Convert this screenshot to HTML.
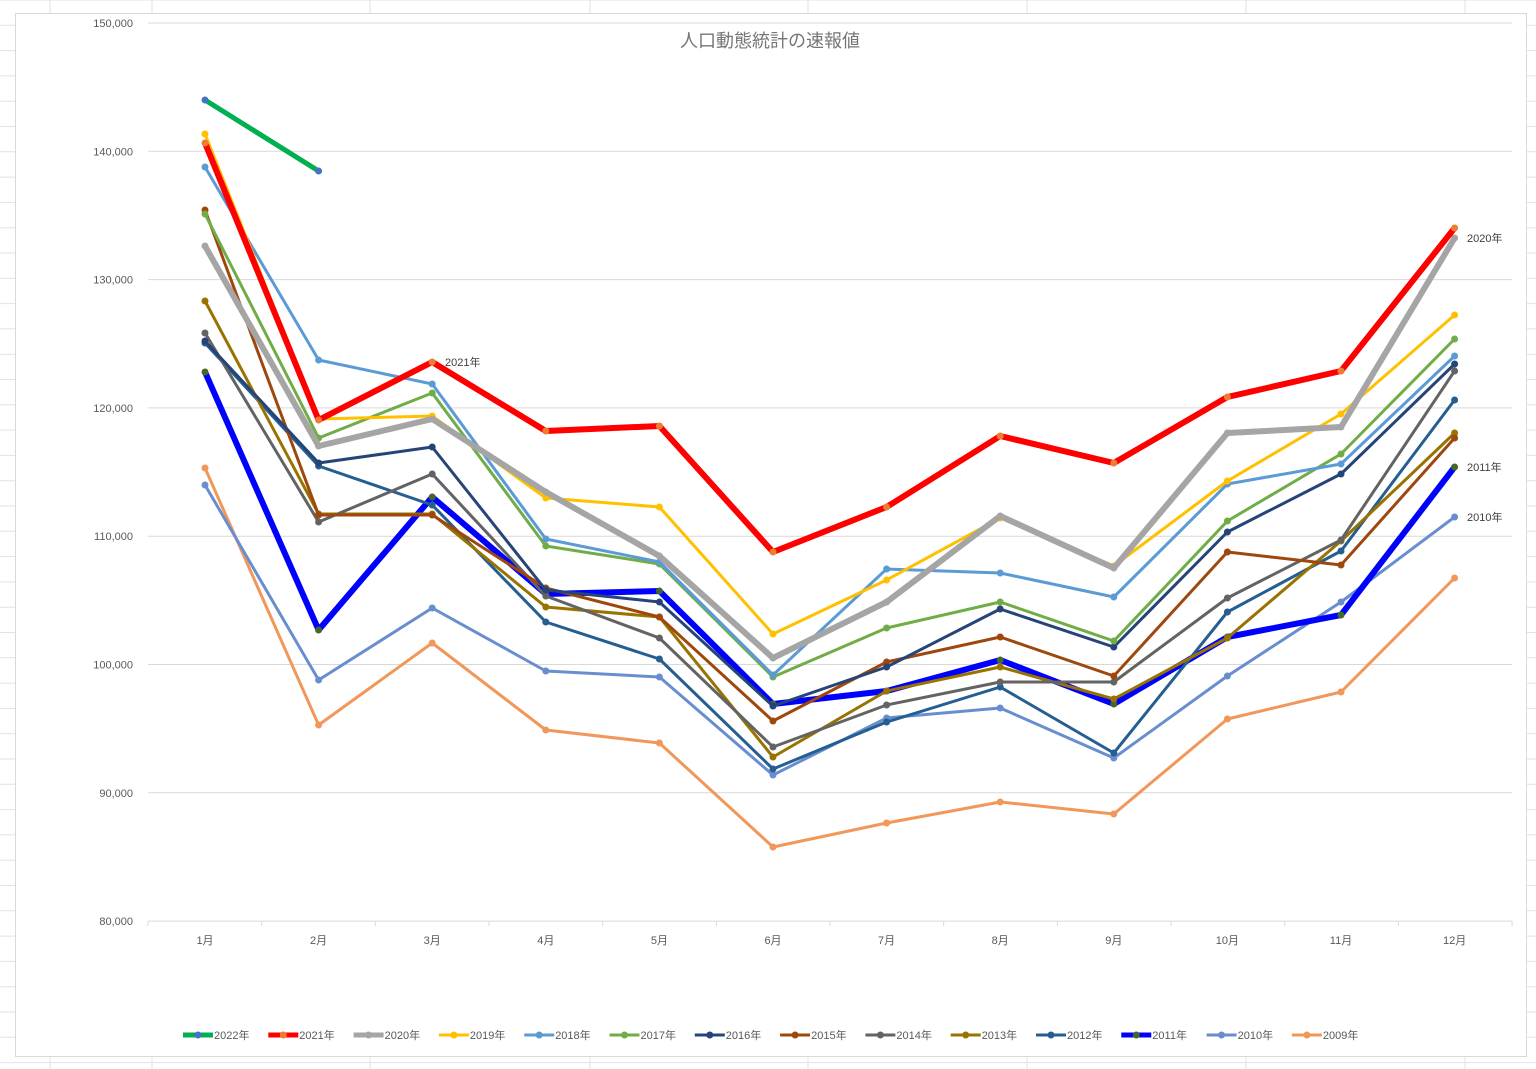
<!DOCTYPE html>
<html><head><meta charset="utf-8"><style>
html,body{margin:0;padding:0;background:#fff;}
svg{display:block;font-family:"Liberation Sans","Noto Sans CJK JP",sans-serif;}
</style></head><body>
<svg id="s" width="1536" height="1069" xmlns="http://www.w3.org/2000/svg"></svg>
<script>
const s=document.getElementById('s');let h='';
for(let y=0;y<1069;y+=25.3)h+=`<line x1="0" y1="${y}" x2="1536" y2="${y}" stroke="#e2e2e2" stroke-width="1"/>`;
for(const x of [50,152,370,590,808,1027,1246,1465])h+=`<line x1="${x}" y1="0" x2="${x}" y2="1069" stroke="#e2e2e2"/>`;
h+=`<rect x="15.5" y="13.5" width="1511" height="1043" fill="#fff" stroke="#d9d9d9"/>`;
const vals=[150000,140000,130000,120000,110000,100000,90000,80000];
vals.forEach((v,i)=>{const y=23+i*128.3;h+=`<line x1="148" y1="${y}" x2="1512" y2="${y}" stroke="#d9d9d9"/>`;
h+=`<text x="133" y="${y+4}" font-size="11" fill="#595959" text-anchor="end">${v.toLocaleString('en-US')}</text>`;});
for(let k=0;k<=12;k++){const x=148+k*113.67;h+=`<line x1="${x}" y1="921" x2="${x}" y2="926" stroke="#d9d9d9"/>`;}
const mx=m=>205+m*113.6;
for(let m=0;m<12;m++)h+=`<text x="${mx(m)}" y="944" font-size="11" fill="#595959" text-anchor="middle">${m+1}月</text>`;
h+=`<text x="770" y="47" font-size="18" fill="#757575" text-anchor="middle">人口動態統計の速報値</text>`;
const S=[
['2022年','#00B050',5,[100,171],'#4472C4'],
['2021年','#FF0000',6,[143,420,362,431,426,552,507,436,463,397,371,228],'#ED7D31'],
['2020年','#A5A5A5',6,[246,446,419,492,556,658,602,516,568,433,427,238]],
['2019年','#FFC000',3,[134,419,416,498,507,634,580,518,566,481,414,315]],
['2018年','#5B9BD5',3,[167,360,384,539,562,675,569,573,597,484,464,356]],
['2017年','#70AD47',3,[214,438,393,546,564,677,628,602,641,521,454,339]],
['2016年','#264478',3,[341,463,447,590,602,706,667,609,647,532,474,364]],
['2015年','#9E480E',3,[210,515,515,588,617,721,662,637,676,552,565,438]],
['2014年','#636363',3,[333,522,474,596,638,747,705,682,682,598,540,371]],
['2013年','#997300',3,[301,514,514,607,617,757,691,667,699,638,541,433]],
['2012年','#255E91',3,[343,466,505,622,659,769,722,687,753,612,551,400]],
['2011年','#0000FF',6,[372,630,497,594,591,704,691,660,704,637,615,467],'#43682B'],
['2010年','#698ED0',3,[485,680,608,671,677,775,718,708,758,676,602,517]],
['2009年','#F1975A',3,[468,725,643,730,743,847,823,802,814,719,692,578]]];
let g='';
S.slice().reverse().forEach(([n,c,w,d,mc])=>{
 g+=`<polyline fill="none" stroke="${c}" stroke-width="${w}" stroke-linejoin="round" points="${d.map((y,i)=>mx(i)+','+y).join(' ')}"/>`;
 d.forEach((y,i)=>g+=`<circle cx="${mx(i)}" cy="${y}" r="3.5" fill="${mc||c}"/>`);
});
h+=g;
h+=`<text x="445" y="366" font-size="11" fill="#404040">2021年</text>`;
h+=`<text x="1467" y="242" font-size="11" fill="#404040">2020年</text>`;
h+=`<text x="1467" y="471" font-size="11" fill="#404040">2011年</text>`;
h+=`<text x="1467" y="521" font-size="11" fill="#404040">2010年</text>`;
S.forEach(([n,c,w,d,mc],i)=>{const x=183+i*85.3;
 h+=`<line x1="${x}" y1="1035" x2="${x+30}" y2="1035" stroke="${c}" stroke-width="${Math.min(w,5)}"/>`;
 h+=`<circle cx="${x+15}" cy="1035" r="3.5" fill="${mc||c}"/>`;
 h+=`<text x="${x+31}" y="1039" font-size="11" fill="#595959">${n}</text>`;});
s.innerHTML=h;
</script>
</body></html>
